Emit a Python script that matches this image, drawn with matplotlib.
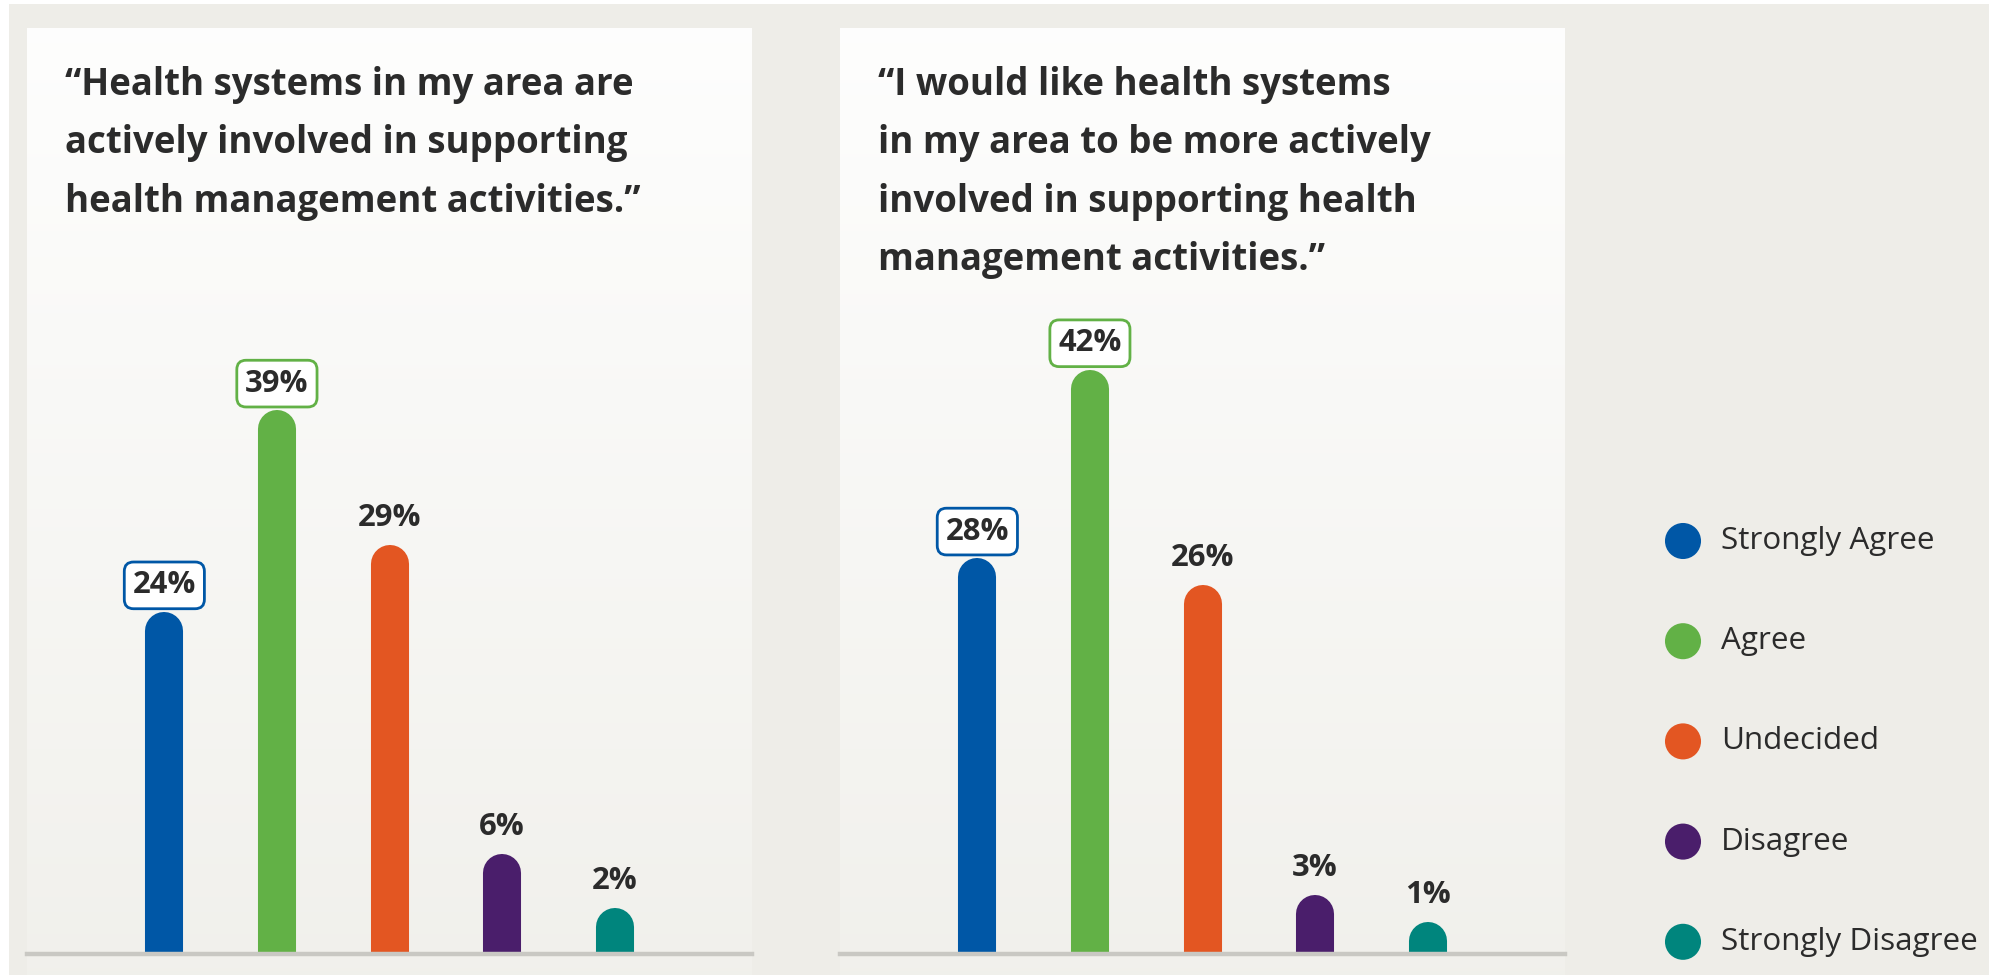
import matplotlib.pyplot as plt
import numpy as np

W, H = 1989, 975

categories = ["Strongly Agree", "Agree", "Undecided", "Disagree", "Strongly Disagree"]
colors = ["#0057A6", "#62B146", "#E35622", "#4A1E6B", "#00857D"]
left_values = [24, 39, 29, 6, 2]
right_values = [28, 42, 26, 3, 1]
left_title = "\u201cHealth systems in my area are\nactively involved in supporting\nhealth management activities.\u201d"
right_title = ("\u201cI would like health systems\nin my area to be more actively\n"
               "involved in supporting health\nmanagement activities.\u201d")
boxed = [True, True, False, False, False]

plt.rcParams["font.family"] = ["Open Sans", "DejaVu Sans"]
BG = "#EEEDE8"
TEXT = "#2B2B2B"


def fx(px):
    return px / W


def fy(py):
    return 1 - py / H


def draw_panel(fig, x0, x1, title, values):
    # gradient card behind the chart
    bg = fig.add_axes([fx(x0), 0, fx(x1 - x0), fy(28)], zorder=0)
    grad = np.linspace(0, 1, 256).reshape(-1, 1)
    top = np.array([0.995, 0.995, 0.993])
    bottom = np.array([0.945, 0.943, 0.925])
    img = top + (bottom - top) * grad[:, :, None]
    bg.imshow(img, aspect="auto", extent=[0, 1, 0, 1])
    bg.axis("off")

    base_y = 954
    ymax = 50
    px_per_unit = 13.45
    ax = fig.add_axes([fx(x0), fy(base_y), fx(x1 - x0), (ymax * px_per_unit) / H], zorder=1)
    ax.patch.set_alpha(0)
    x = np.arange(len(values))
    ax.vlines(x, 0, values, colors=colors, linewidth=27.4, capstyle="round")
    ax.set_xlim(-1.22, 5.22)
    ax.set_ylim(0, ymax)
    ax.axhline(0, color="#C9C8C3", lw=3.2, zorder=5, clip_on=False)
    for xi, v, c, b in zip(x, values, colors, boxed):
        kw = {}
        if b:
            kw["bbox"] = dict(boxstyle="round,pad=0.27,rounding_size=0.3", fc="white", ec=c, lw=2.0)
        ax.annotate(f"{v}%", (xi, v), xytext=(0, 33), textcoords="offset points",
                    ha="center", va="center", fontsize=22.3, fontweight="bold",
                    color=TEXT, clip_on=False, **kw)
    ax.axis("off")

    fig.text(fx(x0 + 38), fy(66), title, ha="left", va="top", fontsize=26.4,
             fontweight="bold", color=TEXT, linespacing=1.7)


def main() -> None:
    fig = plt.figure(figsize=(W / 100, H / 100), dpi=100, facecolor=BG)

    # thin white border along the top and left edges
    fig.add_artist(plt.Rectangle((0, fy(4)), 1, fy(0) - fy(4), transform=fig.transFigure,
                                 fc="white", ec="none", zorder=3))
    fig.add_artist(plt.Rectangle((0, 0), fx(9), 1, transform=fig.transFigure,
                                 fc="white", ec="none", zorder=3))

    draw_panel(fig, 27, 752, left_title, left_values)
    draw_panel(fig, 840, 1565, right_title, right_values)

    # legend
    lg = fig.add_axes([0, 0, 1, 1], zorder=2)
    lg.set_xlim(0, W)
    lg.set_ylim(H, 0)
    lg.axis("off")
    rows = 541 + 100.2 * np.arange(len(categories))
    lg.scatter([1683] * len(categories), rows, s=36 ** 2 * 0.52, c=colors, edgecolors="none")
    for y, name in zip(rows, categories):
        lg.text(1721, y, name, ha="left", va="center", fontsize=22.6, color=TEXT)

    fig.savefig("out.png", dpi=100, facecolor=BG)


if __name__ == "__main__":
    main()
